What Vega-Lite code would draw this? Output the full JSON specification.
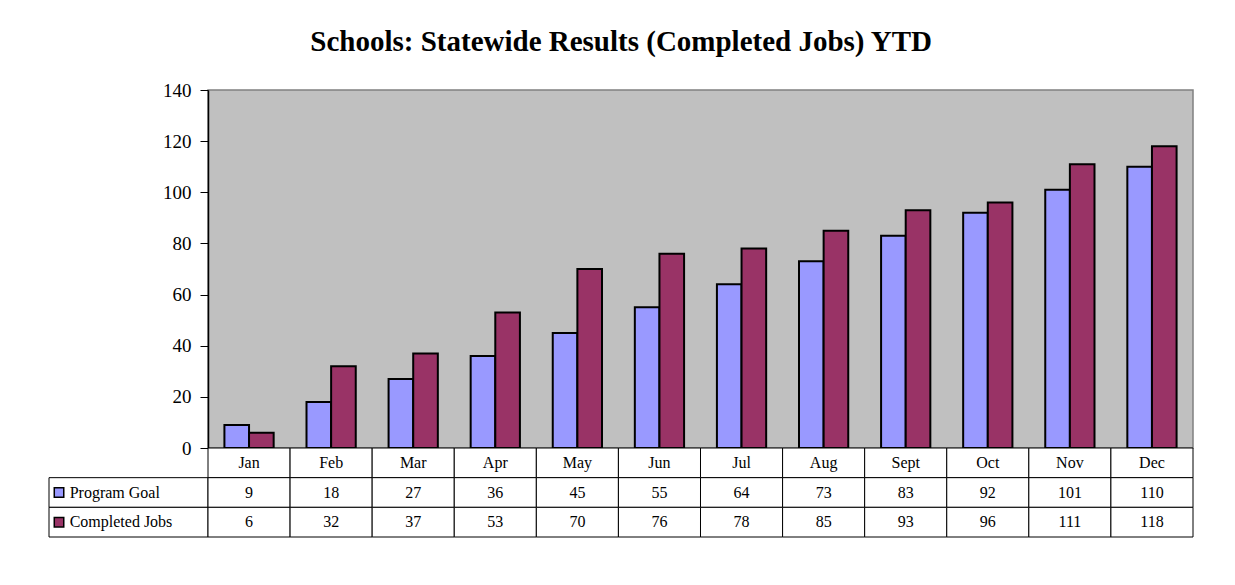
{
  "$schema": "https://vega.github.io/schema/vega-lite/v6.json",
  "padding": {"left": 48, "top": 28, "right": 40, "bottom": 40},
  "background": "white",
  "title": {
    "text": "Schools: Statewide Results (Completed Jobs) YTD",
    "font": "Liberation Serif",
    "fontSize": 29,
    "fontWeight": "bold",
    "color": "black",
    "anchor": "middle",
    "offset": 23
  },
  "data": {
    "values": [
      {"month": "Jan", "series": "Program Goal", "value": 9},
      {"month": "Feb", "series": "Program Goal", "value": 18},
      {"month": "Mar", "series": "Program Goal", "value": 27},
      {"month": "Apr", "series": "Program Goal", "value": 36},
      {"month": "May", "series": "Program Goal", "value": 45},
      {"month": "Jun", "series": "Program Goal", "value": 55},
      {"month": "Jul", "series": "Program Goal", "value": 64},
      {"month": "Aug", "series": "Program Goal", "value": 73},
      {"month": "Sept", "series": "Program Goal", "value": 83},
      {"month": "Oct", "series": "Program Goal", "value": 92},
      {"month": "Nov", "series": "Program Goal", "value": 101},
      {"month": "Dec", "series": "Program Goal", "value": 110},
      {"month": "Jan", "series": "Completed Jobs", "value": 6},
      {"month": "Feb", "series": "Completed Jobs", "value": 32},
      {"month": "Mar", "series": "Completed Jobs", "value": 37},
      {"month": "Apr", "series": "Completed Jobs", "value": 53},
      {"month": "May", "series": "Completed Jobs", "value": 70},
      {"month": "Jun", "series": "Completed Jobs", "value": 76},
      {"month": "Jul", "series": "Completed Jobs", "value": 78},
      {"month": "Aug", "series": "Completed Jobs", "value": 85},
      {"month": "Sept", "series": "Completed Jobs", "value": 93},
      {"month": "Oct", "series": "Completed Jobs", "value": 96},
      {"month": "Nov", "series": "Completed Jobs", "value": 111},
      {"month": "Dec", "series": "Completed Jobs", "value": 118}
    ]
  },
  "columns": 2,
  "spacing": 0,
  "bounds": "flush",
  "concat": [
    {
      "width": 159,
      "height": 358,
      "data": {"values": []},
      "mark": {"type": "text"},
      "encoding": {}
    },
    {
      "width": 985,
      "height": 358,
      "view": {"fill": "#C0C0C0", "stroke": "#808080", "strokeWidth": 1.5},
      "mark": {"type": "bar", "stroke": "black", "strokeWidth": 2},
      "encoding": {
        "x": {
          "field": "month",
          "type": "nominal",
          "sort": null,
          "scale": {"paddingInner": 0.4, "paddingOuter": 0.2},
          "axis": null
        },
        "xOffset": {
          "field": "series",
          "type": "nominal",
          "sort": ["Program Goal", "Completed Jobs"],
          "scale": {"paddingInner": 0, "paddingOuter": 0}
        },
        "y": {
          "field": "value",
          "type": "quantitative",
          "scale": {"domain": [0, 140], "nice": false},
          "axis": {
            "values": [0, 20, 40, 60, 80, 100, 120, 140],
            "grid": false,
            "title": null,
            "domainColor": "black",
            "domainWidth": 1.5,
            "tickColor": "black",
            "tickWidth": 1,
            "tickSize": 8,
            "labelPadding": 9,
            "labelFont": "Liberation Serif",
            "labelFontSize": 19,
            "labelColor": "black"
          }
        },
        "color": {
          "field": "series",
          "type": "nominal",
          "scale": {"domain": ["Program Goal", "Completed Jobs"], "range": ["#9999FF", "#993366"]},
          "legend": null
        }
      }
    },
    {
      "width": 159,
      "height": 89,
      "transform": [{"filter": {"field": "month", "equal": "Jan"}}],
      "encoding": {
        "y": {
          "field": "series",
          "type": "nominal",
          "scale": {"domain": ["Month", "Program Goal", "Completed Jobs"], "paddingInner": 0, "paddingOuter": 0},
          "axis": null
        }
      },
      "layer": [
        {
          "mark": {"type": "rect", "fill": "white", "stroke": "black", "strokeWidth": 1},
          "encoding": {
            "x": {"datum": 0, "type": "quantitative", "scale": {"domain": [0, 1], "nice": false, "zero": false}, "axis": null},
            "x2": {"datum": 1}
          }
        },
        {
          "mark": {"type": "point", "shape": "square", "filled": true, "size": 90, "stroke": "black", "strokeWidth": 1.5, "opacity": 1},
          "encoding": {
            "x": {"datum": 0.063, "type": "quantitative"},
            "fill": {
              "field": "series",
              "type": "nominal",
              "scale": {"domain": ["Program Goal", "Completed Jobs"], "range": ["#9999FF", "#993366"]},
              "legend": null
            }
          }
        },
        {
          "mark": {"type": "text", "align": "left", "baseline": "middle", "font": "Liberation Serif", "fontSize": 16, "color": "black"},
          "encoding": {
            "x": {"datum": 0.13, "type": "quantitative"},
            "text": {"field": "series"}
          }
        }
      ]
    },
    {
      "width": 985,
      "height": 89,
      "layer": [
        {
          "transform": [{"filter": {"field": "series", "equal": "Program Goal"}}],
          "mark": {"type": "rect", "fill": "white", "stroke": "black", "strokeWidth": 1},
          "encoding": {
            "x": {"field": "month", "type": "nominal", "sort": null, "scale": {"paddingInner": 0, "paddingOuter": 0}, "axis": null},
            "y": {
              "datum": "Month",
              "type": "nominal",
              "scale": {"domain": ["Month", "Program Goal", "Completed Jobs"], "paddingInner": 0, "paddingOuter": 0},
              "axis": null
            }
          }
        },
        {
          "transform": [{"filter": {"field": "series", "equal": "Program Goal"}}],
          "mark": {"type": "text", "baseline": "middle", "font": "Liberation Serif", "fontSize": 16, "color": "black"},
          "encoding": {
            "x": {"field": "month", "type": "nominal", "sort": null},
            "y": {"datum": "Month", "type": "nominal"},
            "text": {"field": "month"}
          }
        },
        {
          "mark": {"type": "rect", "fill": "white", "stroke": "black", "strokeWidth": 1},
          "encoding": {
            "x": {"field": "month", "type": "nominal", "sort": null},
            "y": {"field": "series", "type": "nominal"}
          }
        },
        {
          "mark": {"type": "text", "baseline": "middle", "font": "Liberation Serif", "fontSize": 16, "color": "black"},
          "encoding": {
            "x": {"field": "month", "type": "nominal", "sort": null},
            "y": {"field": "series", "type": "nominal"},
            "text": {"field": "value", "type": "quantitative"}
          }
        }
      ]
    }
  ],
  "config": {
    "view": {"stroke": null},
    "font": "Liberation Serif"
  }
}
